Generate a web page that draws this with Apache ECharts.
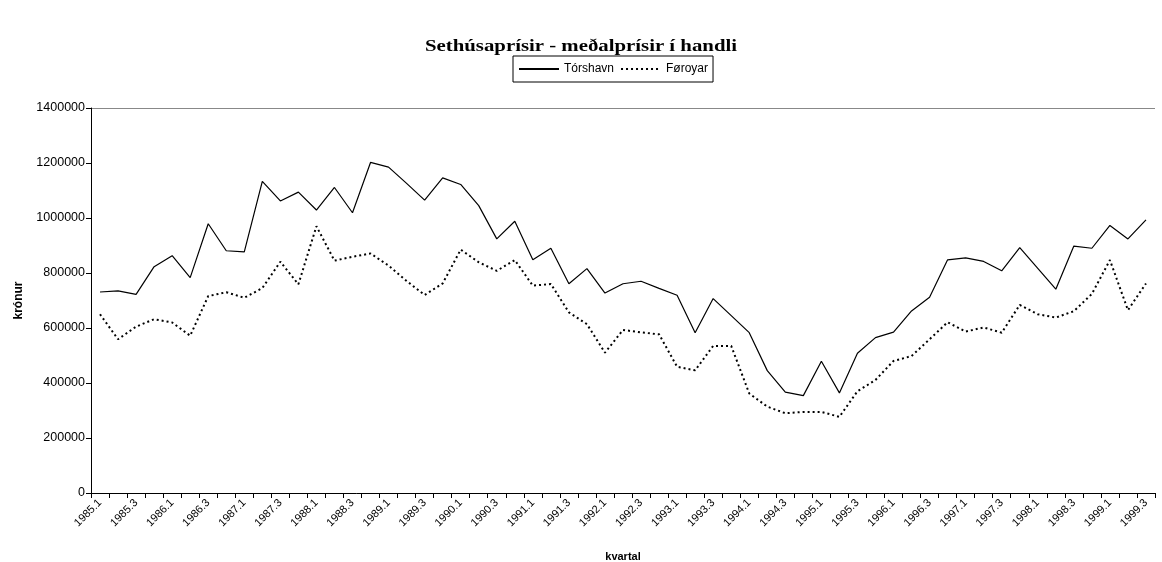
<!DOCTYPE html>
<html><head><meta charset="utf-8">
<script src="https://cdn.jsdelivr.net/npm/echarts@6/dist/echarts.min.js"></script>
<style>html,body{margin:0;padding:0;background:#fff}#c{width:1162px;height:562px}</style>
</head><body><div id="c"></div>
<script>
const titleText = 'Sethúsaprísir - meðalprísir í handli';
const categories = [];
for (let y = 1985; y <= 1999; y++) for (let q = 1; q <= 4; q++) { if (y === 1999 && q === 4) break; categories.push(y + '.' + q); }
const torshavn = [731000,735000,722000,823000,863000,783000,979000,881000,877000,1133000,
 1062000,1094000,1029000,1111000,1019000,1202000,1185000,1126000,1065000,1146000,
 1122000,1045000,924000,988000,848000,890000,761000,816000,727000,761000,
 770000,744000,719000,583000,707000,645000,583000,445000,367000,354000,
 479000,364000,508000,565000,585000,662000,712000,848000,855000,842000,
 808000,892000,817000,741000,898000,890000,973000,924000,993000];
const foroyar = [650000,559000,605000,632000,620000,572000,716000,730000,710000,745000,
 841000,759000,970000,845000,859000,871000,827000,771000,720000,762000,
 885000,839000,808000,847000,754000,760000,657000,614000,510000,593000,
 584000,577000,459000,446000,535000,535000,362000,314000,290000,295000,
 295000,277000,370000,411000,480000,498000,559000,621000,587000,602000,
 583000,684000,650000,638000,661000,724000,847000,665000,762000];
const yTicks = [0,200000,400000,600000,800000,1000000,1200000,1400000];

const chart = echarts.init(document.getElementById('c'), null, {renderer:'canvas'});
chart.setOption({
  animation: false,
  backgroundColor: '#fff',
  graphic: [{
    type: 'text', x: 581, y: 47, scaleX: 1.3,
    style: {text: titleText, font: 'bold 16px "Liberation Serif"', fill: '#000',
            textAlign: 'center', textVerticalAlign: 'middle'}
  }],
  legend: {
    left: 513, top: 56,
    padding: [7, 5, 7, 5],
    borderColor: '#000', borderWidth: 1,
    itemWidth: 40, itemHeight: 10, itemGap: 6,
    itemStyle: {opacity: 0},
    textStyle: {fontFamily: 'Liberation Sans', fontSize: 12, color: '#000'},
    data: ['Tórshavn', 'Føroyar']
  },
  grid: {left: 91, right: 7, top: 108, bottom: 69, containLabel: false, outerBoundsMode: 'none'},
  xAxis: {
    type: 'category', data: categories, boundaryGap: true,
    name: 'kvartal', nameLocation: 'middle', nameGap: 58,
    nameTextStyle: {fontFamily: 'Liberation Sans', fontSize: 11, fontWeight: 'bold', color: '#000'},
    axisLine: {lineStyle: {color: '#000', width: 1}},
    axisTick: {show: true, length: 5, interval: 0, lineStyle: {color: '#000'}},
    axisLabel: {interval: 1, rotate: 45, fontFamily: 'Liberation Sans', fontSize: 11, color: '#000', margin: 8}
  },
  yAxis: {
    type: 'value', min: 0, max: 1400000, interval: 200000,
    name: 'krónur', nameLocation: 'middle', nameGap: 66, nameRotate: 90,
    nameTextStyle: {fontFamily: 'Liberation Sans', fontSize: 12, fontWeight: 'bold', color: '#000'},
    axisLine: {show: true, lineStyle: {color: '#000', width: 1}},
    axisTick: {show: true, length: 5, lineStyle: {color: '#000'}},
    axisLabel: {fontFamily: 'Liberation Sans', fontSize: 12.5, color: '#000', margin: 6,
      formatter: v => yTicks.includes(v) ? String(v) : ''},
    splitLine: {show: true, lineStyle: {color: ['transparent','transparent','transparent','transparent','transparent','transparent','transparent','#888'], width: 1}}
  },
  series: [
    {name: 'Tórshavn', type: 'line', data: torshavn, symbol: 'none',
     lineStyle: {color: '#000', width: 1.2}, itemStyle: {color: '#000'}},
    {name: 'Føroyar', type: 'line', data: foroyar, symbol: 'none',
     lineStyle: {color: '#000', width: 2, type: [2, 3]}, itemStyle: {color: '#000'}}
  ]
});
</script></body></html>
